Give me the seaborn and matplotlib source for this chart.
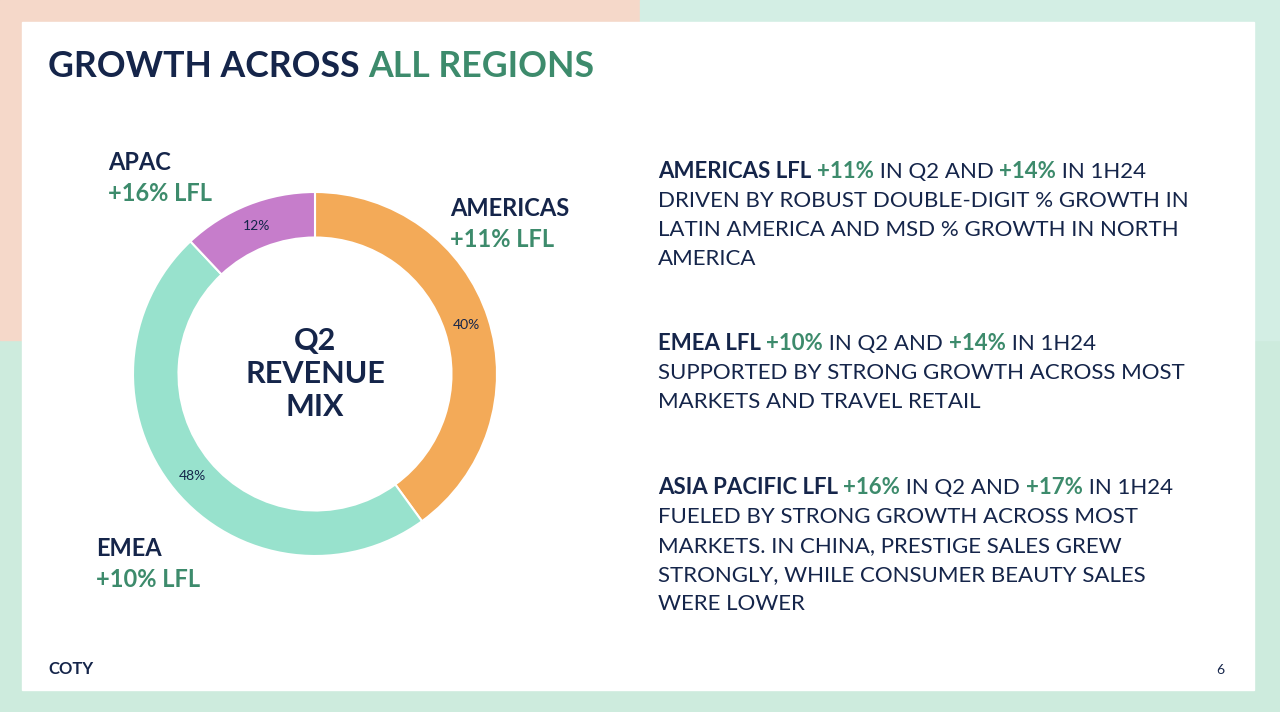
import matplotlib
matplotlib.use("Agg")
import matplotlib.pyplot as plt
import seaborn as sns
from matplotlib.patches import Rectangle

sns.set_theme(style="white")
plt.rcParams['font.family'] = ['Lato', 'DejaVu Sans']

regions = ["AMERICAS", "EMEA", "APAC"]
shares = [40, 48, 12]
lfl = ["+11% LFL", "+10% LFL", "+16% LFL"]
pie_colors = ["#F3AA58", "#98E2CD", "#C67DCB"]

NAVY = "#15254A"
GREEN = "#3D8B6C"

fig = plt.figure(figsize=(12.8, 7.12), dpi=100)
fig.patch.set_facecolor("#CDEBDD")

bg = fig.add_axes([0, 0, 1, 1])
bg.set_xlim(0, 1280)
bg.set_ylim(712, 0)
bg.axis("off")
bg.add_patch(Rectangle((0, 0), 640, 340, color="#F5D8C9", zorder=0))
bg.add_patch(Rectangle((640, 0), 640, 340, color="#D3EEE4", zorder=0))
bg.add_patch(Rectangle((22, 22), 1232, 668, color="white", zorder=1))

# donut
pie_ax = fig.add_axes([(315 - 182) / 1280, 1 - (374 + 182) / 712, 364 / 1280, 364 / 712])
wedges, _, autotexts = pie_ax.pie(
    shares, colors=pie_colors, startangle=90, counterclock=False,
    wedgeprops=dict(width=0.25, edgecolor="white", linewidth=1.5),
    autopct=lambda p: f"{p:.0f}%", pctdistance=0.875,
    textprops=dict(fontsize=10, color=NAVY))
pie_ax.set_xlim(-1, 1)
pie_ax.set_ylim(-1, 1)
pie_ax.set_aspect("equal")
pie_ax.text(0, 0, "Q2\nREVENUE\nMIX", ha="center", va="center", fontsize=22,
            fontweight="bold", color=NAVY, linespacing=1.2)

def txt(x, y, s, color=NAVY, size=16, weight="normal"):
    return bg.text(x, y, s, color=color, fontsize=size, fontweight=weight,
                   va="baseline", ha="left", zorder=3)

renderer = fig.canvas.get_renderer()

def rich(x, y, pieces, size=16):
    for s, color, weight in pieces:
        t = txt(x, y, s, color, size, weight)
        bb = t.get_window_extent(renderer=renderer)
        x += bb.width

# title
rich(48, 77, [("GROWTH ACROSS ", NAVY, "bold"), ("ALL REGIONS", GREEN, "bold")], size=25.7)

# region labels
label_pos = [(450, 216), (96, 556), (108, 170)]
for (x, y), name, l in zip(label_pos, regions, lfl):
    txt(x, y, name, NAVY, 17, "bold")
    txt(x, y + 31, l, GREEN, 17, "bold")

# commentary
blocks = [
    (178, [("AMERICAS LFL ", NAVY, "bold"), ("+11%", GREEN, "bold"), (" IN Q2 AND ", NAVY, "normal"),
           ("+14%", GREEN, "bold"), (" IN 1H24", NAVY, "normal")],
     ["DRIVEN BY ROBUST DOUBLE-DIGIT % GROWTH IN", "LATIN AMERICA AND MSD % GROWTH IN NORTH", "AMERICA"]),
    (350, [("EMEA LFL ", NAVY, "bold"), ("+10%", GREEN, "bold"), (" IN Q2 AND ", NAVY, "normal"),
           ("+14%", GREEN, "bold"), (" IN 1H24", NAVY, "normal")],
     ["SUPPORTED BY STRONG GROWTH ACROSS MOST", "MARKETS AND TRAVEL RETAIL"]),
    (494, [("ASIA PACIFIC LFL ", NAVY, "bold"), ("+16%", GREEN, "bold"), (" IN Q2 AND ", NAVY, "normal"),
           ("+17%", GREEN, "bold"), (" IN 1H24", NAVY, "normal")],
     ["FUELED BY STRONG GROWTH ACROSS MOST", "MARKETS. IN CHINA, PRESTIGE SALES GREW",
      "STRONGLY, WHILE CONSUMER BEAUTY SALES", "WERE LOWER"]),
]
for y, head, lines in blocks:
    rich(658, y, head, size=16)
    for i, line in enumerate(lines):
        txt(658, y + 29 * (i + 1), line, NAVY, 16)

txt(48, 674, "COTY", NAVY, 12, "bold")
bg.text(1224, 674, "6", color=NAVY, fontsize=10, ha="right", va="baseline", zorder=3)

fig.savefig("out.png", dpi=100, facecolor=fig.get_facecolor())
